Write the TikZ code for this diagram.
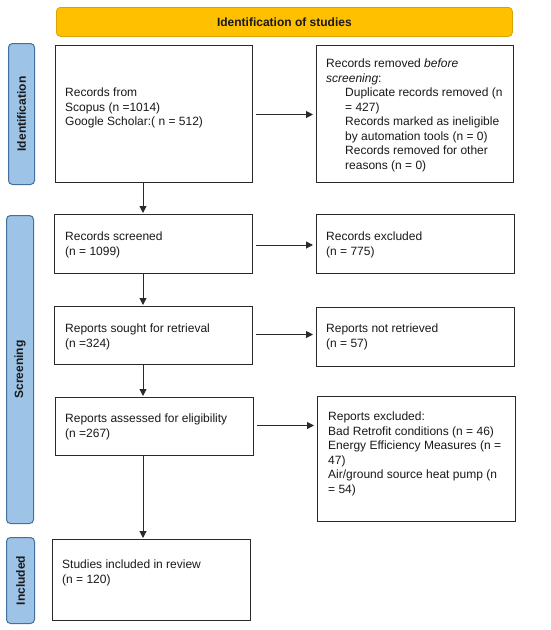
\documentclass[tikz,border=0pt]{standalone}
\usepackage{fontspec}
\setmainfont{Liberation Sans}
\usetikzlibrary{arrows.meta}
\definecolor{barorange}{HTML}{FFC000}
\definecolor{barorangedraw}{HTML}{D9A300}
\definecolor{sideblue}{HTML}{9DC3E6}
\definecolor{sidebluedraw}{HTML}{41719C}
\definecolor{boxline}{HTML}{2A2A2A}
\begin{document}
\begin{tikzpicture}[x=1pt,y=-1pt,
  box/.style={draw=boxline,line width=1pt,fill=white,anchor=north west,inner sep=0pt},
  txt/.style={anchor=north west,inner sep=0pt,align=left,font=\fontsize{12}{14.5}\selectfont,text=black!90},
  side/.style={draw=sidebluedraw,fill=sideblue,line width=1pt,rounded corners=4pt,anchor=north west,inner sep=0pt},
  sidetxt/.style={rotate=90,font=\fontsize{12}{14}\selectfont\bfseries,text=black!90},
  topbar/.style={draw=barorangedraw,fill=barorange,line width=0.8pt,rounded corners=4pt,anchor=north west,inner sep=0pt},
  arr/.style={draw=boxline,line width=1pt,-{Triangle[length=7pt,width=7pt]}}
]
\useasboundingbox (0,0) rectangle (550,630);

% top bar
\node[topbar,minimum width=456pt,minimum height=29pt] (top) at (56,7) {};
\node[font=\fontsize{12}{14}\selectfont\bfseries,text=black!90] (toptxt) at (top.center) {Identification of studies};

% side bars
\node[side,minimum width=26pt,minimum height=141pt] (sid1) at (8,43) {};
\node[sidetxt] (sid1t) at (sid1.center) {Identification};
\node[side,minimum width=27pt,minimum height=308pt] (sid2) at (6,215) {};
\node[sidetxt] (sid2t) at (sid2.center) {Screening};
\node[side,minimum width=28pt,minimum height=86pt] (sid3) at (6,537) {};
\node[sidetxt] (sid3t) at (sid3.center) {Included};

% boxes
\node[box,minimum width=197pt,minimum height=137pt] (b1) at (55,45) {};
\node[box,minimum width=197pt,minimum height=137pt] (rem) at (316,45) {};
\node[box,minimum width=198pt,minimum height=59pt] (scr) at (54,214) {};
\node[box,minimum width=198pt,minimum height=59pt] (exc) at (316,214) {};
\node[box,minimum width=198pt,minimum height=58pt] (sou) at (54,306) {};
\node[box,minimum width=198pt,minimum height=59pt] (nre) at (316,307) {};
\node[box,minimum width=198pt,minimum height=58pt] (ass) at (55,397) {};
\node[box,minimum width=198pt,minimum height=125pt] (rex) at (317,396) {};
\node[box,minimum width=198pt,minimum height=81pt] (inc) at (52,539) {};

% texts
\node[txt] (b1t) at (65,88) {Records from\\Scopus (n =1014)\\Google Scholar:( n = 512)};
\node[txt] (remt) at (326,59) {Records removed \textit{before}\\\textit{screening}:\\
\hspace*{19pt}Duplicate records removed (n\\
\hspace*{19pt}= 427)\\
\hspace*{19pt}Records marked as ineligible\\
\hspace*{19pt}by automation tools (n = 0)\\
\hspace*{19pt}Records removed for other\\
\hspace*{19pt}reasons (n = 0)};
\node[txt] (scrt) at (65,232) {Records screened\\(n = 1099)};
\node[txt] (exct) at (326,232) {Records excluded\\(n = 775)};
\node[txt] (sout) at (65,324) {Reports sought for retrieval\\(n =324)};
\node[txt] (nret) at (326,324) {Reports not retrieved\\(n = 57)};
\node[txt] (asst) at (65,414) {Reports assessed for eligibility\\(n =267)};
\node[txt] (rext) at (328,412) {Reports excluded:\\Bad Retrofit conditions (n = 46)\\Energy Efficiency Measures (n =\\47)\\Air/ground source heat pump (n\\= 54)};
\node[txt] (inct) at (62,560) {Studies included in review\\(n = 120)};

% connectors
\coordinate (vx) at (143,0);
\draw[arr,shorten >=1pt] (b1.south -| vx) -- (scr.north -| vx);
\draw[arr,shorten >=1pt] (scr.south -| vx) -- (sou.north -| vx);
\draw[arr,shorten >=1pt] (sou.south -| vx) -- (ass.north -| vx);
\draw[arr,shorten >=1pt] (ass.south -| vx) -- (inc.north -| vx);

\draw[arr,shorten <=3pt,shorten >=3pt] ([yshift=-0.5pt]b1.east) -- ([yshift=-0.5pt]b1.east -| rem.west);
\draw[arr,shorten <=3pt,shorten >=3pt] ([yshift=-1pt]scr.east) -- ([yshift=-1pt]scr.east -| exc.west);
\draw[arr,shorten <=3pt,shorten >=3pt] ([yshift=1pt]sou.east) -- ([yshift=1pt]sou.east -| nre.west);
\draw[arr,shorten <=3pt,shorten >=3pt] ([yshift=1pt]ass.east) -- ([yshift=1pt]ass.east -| rex.west);
\end{tikzpicture}
\end{document}
